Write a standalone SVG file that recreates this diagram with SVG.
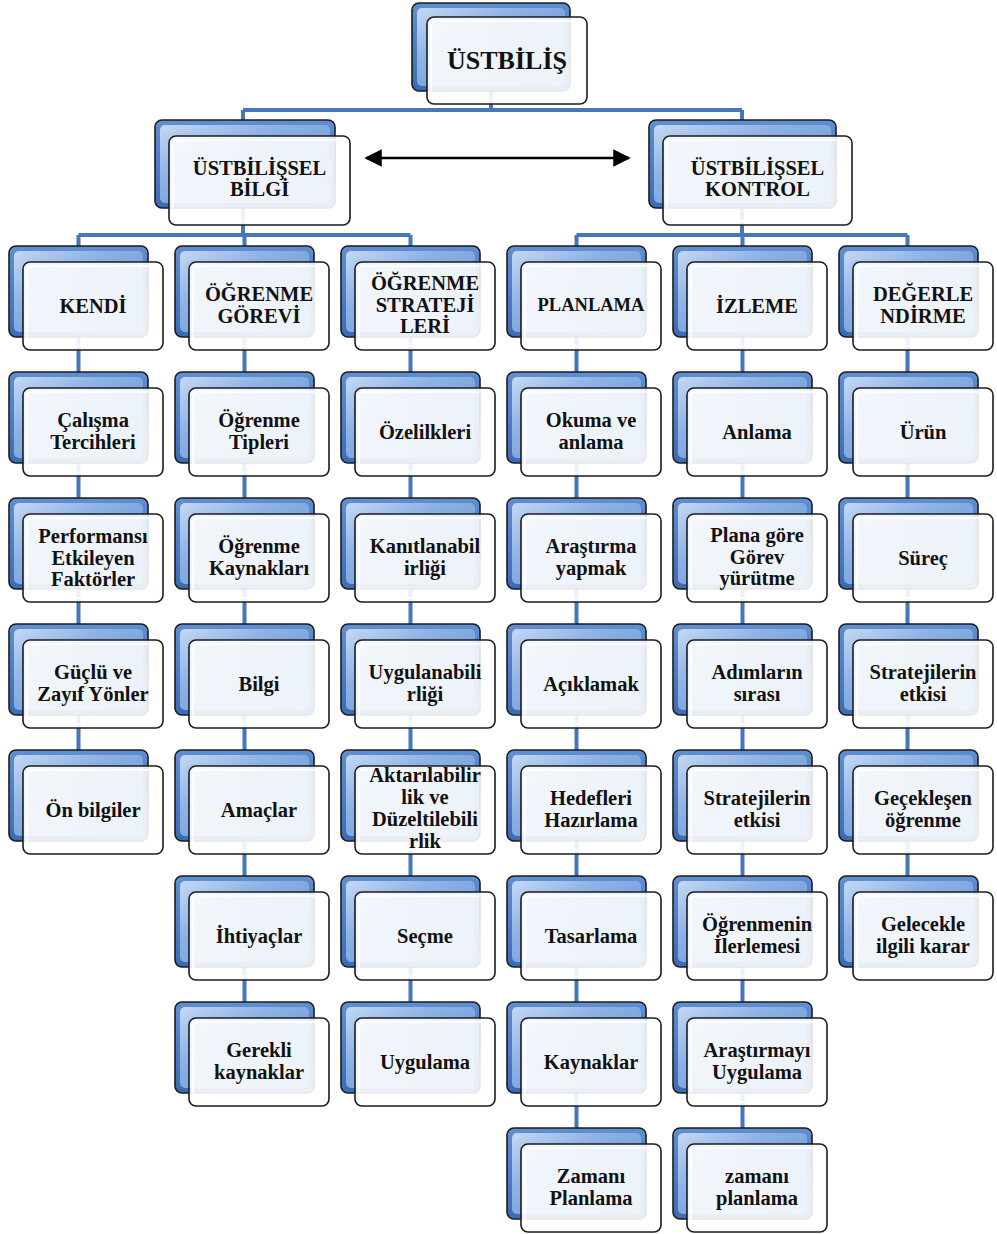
<svg xmlns="http://www.w3.org/2000/svg" width="997" height="1234" viewBox="0 0 997 1234">
  <defs>
    <linearGradient id="backGrad" x1="0" y1="0" x2="0" y2="1">
      <stop offset="0" stop-color="#5f8fd2"/>
      <stop offset="1" stop-color="#3b6cb3"/>
    </linearGradient>
    <linearGradient id="bevelGrad" x1="0" y1="0" x2="1" y2="1">
      <stop offset="0" stop-color="#c4d8f3"/>
      <stop offset="0.35" stop-color="#8eb2e4"/>
      <stop offset="1" stop-color="#5d8ed0"/>
    </linearGradient>
    <linearGradient id="frontGrad" x1="0" y1="0" x2="0" y2="1">
      <stop offset="0" stop-color="#ffffff" stop-opacity="0.86"/>
      <stop offset="1" stop-color="#ffffff" stop-opacity="0.9"/>
    </linearGradient>
    <marker id="arrowHead" viewBox="0 0 10 10" refX="9" refY="5" markerWidth="7" markerHeight="7" markerUnits="strokeWidth" orient="auto-start-reverse">
      <path d="M0,0 L10,5 L0,10 z" fill="#000"/>
    </marker>
  </defs>
  <style>
    .back { fill: url(#backGrad); stroke: #1c1c1c; stroke-width: 1.6; }
    .bevel { fill: url(#bevelGrad); stroke: none; }
    .front { fill: url(#frontGrad); stroke: #1c1c1c; stroke-width: 1.6; }
    .gloss { fill: none; stroke: #ffffff; stroke-width: 2; stroke-opacity: 0.8; }
    .lbl { font-family: "Liberation Serif", "Times New Roman", serif; font-weight: bold; font-size: 20.5px; fill: #111; text-anchor: middle; }
    .big { font-size: 26px; }
    .mid { font-size: 18.5px; }
    .conn { stroke: #4577ba; stroke-width: 4; fill: none; }
    .arrow { stroke: #000; stroke-width: 2.5; fill: none; }
  </style>

  <rect width="997" height="1234" fill="#ffffff"/>

  <!-- tree connectors -->
  <g id="connectors">
    <path class="conn" d="M491,50 V110 M243,110 H742 M243,110 V235 M742,110 V235"/>
    <path class="conn" d="M78.5,235 H410.5 M576.5,235 H907.5"/>
    <path class="conn" d="M78.5,235 V760 M244.5,235 V1012 M410.5,235 V1012 M576.5,235 V1138 M742.5,235 V1138 M907.5,235 V886"/>
    <line class="arrow" x1="366" y1="158" x2="629" y2="158" marker-start="url(#arrowHead)" marker-end="url(#arrowHead)"/>
  </g>

  <!-- root -->
  <g id="n-ustbilis">
    <rect class="back" x="412" y="3" width="158" height="88" rx="7"/>
    <rect class="bevel" x="417" y="8" width="148" height="78" rx="5"/>
    <rect class="front" x="427" y="17" width="160" height="87" rx="7"/>
    <rect class="gloss" x="431" y="21" width="152" height="79" rx="5"/>
    <text class="lbl big" x="507" y="69">ÜSTBİLİŞ</text>
  </g>

  <!-- second level -->
  <g id="n-bilgi">
    <rect class="back" x="155" y="120" width="180" height="88" rx="7"/>
    <rect class="bevel" x="160" y="125" width="170" height="78" rx="5"/>
    <rect class="front" x="169" y="136" width="181" height="89" rx="7"/>
    <rect class="gloss" x="173" y="140" width="173" height="81" rx="5"/>
    <text class="lbl" x="259.5" y="175">ÜSTBİLİŞSEL<tspan x="259.5" dy="21">BİLGİ</tspan></text>
  </g>
  <g id="n-kontrol">
    <rect class="back" x="649" y="120" width="187" height="88" rx="7"/>
    <rect class="bevel" x="654" y="125" width="177" height="78" rx="5"/>
    <rect class="front" x="663" y="136" width="189" height="89" rx="7"/>
    <rect class="gloss" x="667" y="140" width="181" height="81" rx="5"/>
    <text class="lbl" x="757.5" y="175">ÜSTBİLİŞSEL<tspan x="757.5" dy="21">KONTROL</tspan></text>
  </g>

  <!-- column 1: KENDİ -->
  <g id="n-kendi">
    <rect class="back" x="9" y="246" width="139" height="91" rx="7"/><rect class="bevel" x="14" y="251" width="129" height="81" rx="5"/>
    <rect class="front" x="23" y="262" width="140" height="88" rx="7"/><rect class="gloss" x="27" y="266" width="132" height="80" rx="5"/>
    <text class="lbl" x="93" y="313">KENDİ</text>
  </g>
  <g id="n-calisma">
    <rect class="back" x="9" y="372" width="139" height="91" rx="7"/><rect class="bevel" x="14" y="377" width="129" height="81" rx="5"/>
    <rect class="front" x="23" y="388" width="140" height="88" rx="7"/><rect class="gloss" x="27" y="392" width="132" height="80" rx="5"/>
    <text class="lbl" x="93" y="427">Çalışma<tspan x="93" dy="21.5">Tercihleri</tspan></text>
  </g>
  <g id="n-performans">
    <rect class="back" x="9" y="498" width="139" height="91" rx="7"/><rect class="bevel" x="14" y="503" width="129" height="81" rx="5"/>
    <rect class="front" x="23" y="514" width="140" height="88" rx="7"/><rect class="gloss" x="27" y="518" width="132" height="80" rx="5"/>
    <text class="lbl" x="93" y="543">Performansı<tspan x="93" dy="21.5">Etkileyen</tspan><tspan x="93" dy="21.5">Faktörler</tspan></text>
  </g>
  <g id="n-guclu">
    <rect class="back" x="9" y="624" width="139" height="91" rx="7"/><rect class="bevel" x="14" y="629" width="129" height="81" rx="5"/>
    <rect class="front" x="23" y="640" width="140" height="88" rx="7"/><rect class="gloss" x="27" y="644" width="132" height="80" rx="5"/>
    <text class="lbl" x="93" y="679">Güçlü ve<tspan x="93" dy="21.5">Zayıf Yönler</tspan></text>
  </g>
  <g id="n-onbilgiler">
    <rect class="back" x="9" y="750" width="139" height="91" rx="7"/><rect class="bevel" x="14" y="755" width="129" height="81" rx="5"/>
    <rect class="front" x="23" y="766" width="140" height="88" rx="7"/><rect class="gloss" x="27" y="770" width="132" height="80" rx="5"/>
    <text class="lbl" x="93" y="817">Ön bilgiler</text>
  </g>

  <!-- column 2: ÖĞRENME GÖREVİ -->
  <g id="n-gorev">
    <rect class="back" x="175" y="246" width="139" height="91" rx="7"/><rect class="bevel" x="180" y="251" width="129" height="81" rx="5"/>
    <rect class="front" x="189" y="262" width="140" height="88" rx="7"/><rect class="gloss" x="193" y="266" width="132" height="80" rx="5"/>
    <text class="lbl" x="259" y="301">ÖĞRENME<tspan x="259" dy="21.5">GÖREVİ</tspan></text>
  </g>
  <g id="n-tipleri">
    <rect class="back" x="175" y="372" width="139" height="91" rx="7"/><rect class="bevel" x="180" y="377" width="129" height="81" rx="5"/>
    <rect class="front" x="189" y="388" width="140" height="88" rx="7"/><rect class="gloss" x="193" y="392" width="132" height="80" rx="5"/>
    <text class="lbl" x="259" y="427">Öğrenme<tspan x="259" dy="21.5">Tipleri</tspan></text>
  </g>
  <g id="n-kaynaklari">
    <rect class="back" x="175" y="498" width="139" height="91" rx="7"/><rect class="bevel" x="180" y="503" width="129" height="81" rx="5"/>
    <rect class="front" x="189" y="514" width="140" height="88" rx="7"/><rect class="gloss" x="193" y="518" width="132" height="80" rx="5"/>
    <text class="lbl" x="259" y="553">Öğrenme<tspan x="259" dy="21.5">Kaynakları</tspan></text>
  </g>
  <g id="n-bilgi2">
    <rect class="back" x="175" y="624" width="139" height="91" rx="7"/><rect class="bevel" x="180" y="629" width="129" height="81" rx="5"/>
    <rect class="front" x="189" y="640" width="140" height="88" rx="7"/><rect class="gloss" x="193" y="644" width="132" height="80" rx="5"/>
    <text class="lbl" x="259" y="691">Bilgi</text>
  </g>
  <g id="n-amaclar">
    <rect class="back" x="175" y="750" width="139" height="91" rx="7"/><rect class="bevel" x="180" y="755" width="129" height="81" rx="5"/>
    <rect class="front" x="189" y="766" width="140" height="88" rx="7"/><rect class="gloss" x="193" y="770" width="132" height="80" rx="5"/>
    <text class="lbl" x="259" y="817">Amaçlar</text>
  </g>
  <g id="n-ihtiyaclar">
    <rect class="back" x="175" y="876" width="139" height="91" rx="7"/><rect class="bevel" x="180" y="881" width="129" height="81" rx="5"/>
    <rect class="front" x="189" y="892" width="140" height="88" rx="7"/><rect class="gloss" x="193" y="896" width="132" height="80" rx="5"/>
    <text class="lbl" x="259" y="943">İhtiyaçlar</text>
  </g>
  <g id="n-gerekli">
    <rect class="back" x="175" y="1002" width="139" height="91" rx="7"/><rect class="bevel" x="180" y="1007" width="129" height="81" rx="5"/>
    <rect class="front" x="189" y="1018" width="140" height="88" rx="7"/><rect class="gloss" x="193" y="1022" width="132" height="80" rx="5"/>
    <text class="lbl" x="259" y="1057">Gerekli<tspan x="259" dy="21.5">kaynaklar</tspan></text>
  </g>

  <!-- column 3: ÖĞRENME STRATEJİLERİ -->
  <g id="n-stratejiler">
    <rect class="back" x="341" y="246" width="139" height="91" rx="7"/><rect class="bevel" x="346" y="251" width="129" height="81" rx="5"/>
    <rect class="front" x="355" y="262" width="140" height="88" rx="7"/><rect class="gloss" x="359" y="266" width="132" height="80" rx="5"/>
    <text class="lbl" x="425" y="290">ÖĞRENME<tspan x="425" dy="21.5">STRATEJİ</tspan><tspan x="425" dy="21.5">LERİ</tspan></text>
  </g>
  <g id="n-ozellikleri">
    <rect class="back" x="341" y="372" width="139" height="91" rx="7"/><rect class="bevel" x="346" y="377" width="129" height="81" rx="5"/>
    <rect class="front" x="355" y="388" width="140" height="88" rx="7"/><rect class="gloss" x="359" y="392" width="132" height="80" rx="5"/>
    <text class="lbl" x="425" y="439">Özelilkleri</text>
  </g>
  <g id="n-kanitlanabilirlik">
    <rect class="back" x="341" y="498" width="139" height="91" rx="7"/><rect class="bevel" x="346" y="503" width="129" height="81" rx="5"/>
    <rect class="front" x="355" y="514" width="140" height="88" rx="7"/><rect class="gloss" x="359" y="518" width="132" height="80" rx="5"/>
    <text class="lbl" x="425" y="553">Kanıtlanabil<tspan x="425" dy="21.5">irliği</tspan></text>
  </g>
  <g id="n-uygulanabilirlik">
    <rect class="back" x="341" y="624" width="139" height="91" rx="7"/><rect class="bevel" x="346" y="629" width="129" height="81" rx="5"/>
    <rect class="front" x="355" y="640" width="140" height="88" rx="7"/><rect class="gloss" x="359" y="644" width="132" height="80" rx="5"/>
    <text class="lbl" x="425" y="679">Uygulanabili<tspan x="425" dy="21.5">rliği</tspan></text>
  </g>
  <g id="n-aktarilabilirlik">
    <rect class="back" x="341" y="750" width="139" height="91" rx="7"/><rect class="bevel" x="346" y="755" width="129" height="81" rx="5"/>
    <rect class="front" x="355" y="766" width="140" height="88" rx="7"/><rect class="gloss" x="359" y="770" width="132" height="80" rx="5"/>
    <text class="lbl" x="425" y="782">Aktarılabilir<tspan x="425" dy="22">lik ve</tspan><tspan x="425" dy="22">Düzeltilebili</tspan><tspan x="425" dy="22">rlik</tspan></text>
  </g>
  <g id="n-secme">
    <rect class="back" x="341" y="876" width="139" height="91" rx="7"/><rect class="bevel" x="346" y="881" width="129" height="81" rx="5"/>
    <rect class="front" x="355" y="892" width="140" height="88" rx="7"/><rect class="gloss" x="359" y="896" width="132" height="80" rx="5"/>
    <text class="lbl" x="425" y="943">Seçme</text>
  </g>
  <g id="n-uygulama">
    <rect class="back" x="341" y="1002" width="139" height="91" rx="7"/><rect class="bevel" x="346" y="1007" width="129" height="81" rx="5"/>
    <rect class="front" x="355" y="1018" width="140" height="88" rx="7"/><rect class="gloss" x="359" y="1022" width="132" height="80" rx="5"/>
    <text class="lbl" x="425" y="1069">Uygulama</text>
  </g>

  <!-- column 4: PLANLAMA -->
  <g id="n-planlama">
    <rect class="back" x="507" y="246" width="139" height="91" rx="7"/><rect class="bevel" x="512" y="251" width="129" height="81" rx="5"/>
    <rect class="front" x="521" y="262" width="140" height="88" rx="7"/><rect class="gloss" x="525" y="266" width="132" height="80" rx="5"/>
    <text class="lbl mid" x="591" y="311">PLANLAMA</text>
  </g>
  <g id="n-okuma">
    <rect class="back" x="507" y="372" width="139" height="91" rx="7"/><rect class="bevel" x="512" y="377" width="129" height="81" rx="5"/>
    <rect class="front" x="521" y="388" width="140" height="88" rx="7"/><rect class="gloss" x="525" y="392" width="132" height="80" rx="5"/>
    <text class="lbl" x="591" y="427">Okuma ve<tspan x="591" dy="21.5">anlama</tspan></text>
  </g>
  <g id="n-arastirma">
    <rect class="back" x="507" y="498" width="139" height="91" rx="7"/><rect class="bevel" x="512" y="503" width="129" height="81" rx="5"/>
    <rect class="front" x="521" y="514" width="140" height="88" rx="7"/><rect class="gloss" x="525" y="518" width="132" height="80" rx="5"/>
    <text class="lbl" x="591" y="553">Araştırma<tspan x="591" dy="21.5">yapmak</tspan></text>
  </g>
  <g id="n-aciklamak">
    <rect class="back" x="507" y="624" width="139" height="91" rx="7"/><rect class="bevel" x="512" y="629" width="129" height="81" rx="5"/>
    <rect class="front" x="521" y="640" width="140" height="88" rx="7"/><rect class="gloss" x="525" y="644" width="132" height="80" rx="5"/>
    <text class="lbl" x="591" y="691">Açıklamak</text>
  </g>
  <g id="n-hedefler">
    <rect class="back" x="507" y="750" width="139" height="91" rx="7"/><rect class="bevel" x="512" y="755" width="129" height="81" rx="5"/>
    <rect class="front" x="521" y="766" width="140" height="88" rx="7"/><rect class="gloss" x="525" y="770" width="132" height="80" rx="5"/>
    <text class="lbl" x="591" y="805">Hedefleri<tspan x="591" dy="21.5">Hazırlama</tspan></text>
  </g>
  <g id="n-tasarlama">
    <rect class="back" x="507" y="876" width="139" height="91" rx="7"/><rect class="bevel" x="512" y="881" width="129" height="81" rx="5"/>
    <rect class="front" x="521" y="892" width="140" height="88" rx="7"/><rect class="gloss" x="525" y="896" width="132" height="80" rx="5"/>
    <text class="lbl" x="591" y="943">Tasarlama</text>
  </g>
  <g id="n-kaynaklar">
    <rect class="back" x="507" y="1002" width="139" height="91" rx="7"/><rect class="bevel" x="512" y="1007" width="129" height="81" rx="5"/>
    <rect class="front" x="521" y="1018" width="140" height="88" rx="7"/><rect class="gloss" x="525" y="1022" width="132" height="80" rx="5"/>
    <text class="lbl" x="591" y="1069">Kaynaklar</text>
  </g>
  <g id="n-zamani-planlama">
    <rect class="back" x="507" y="1128" width="139" height="91" rx="7"/><rect class="bevel" x="512" y="1133" width="129" height="81" rx="5"/>
    <rect class="front" x="521" y="1144" width="140" height="88" rx="7"/><rect class="gloss" x="525" y="1148" width="132" height="80" rx="5"/>
    <text class="lbl" x="591" y="1183">Zamanı<tspan x="591" dy="21.5">Planlama</tspan></text>
  </g>

  <!-- column 5: İZLEME -->
  <g id="n-izleme">
    <rect class="back" x="673" y="246" width="139" height="91" rx="7"/><rect class="bevel" x="678" y="251" width="129" height="81" rx="5"/>
    <rect class="front" x="687" y="262" width="140" height="88" rx="7"/><rect class="gloss" x="691" y="266" width="132" height="80" rx="5"/>
    <text class="lbl" x="757" y="313">İZLEME</text>
  </g>
  <g id="n-anlama">
    <rect class="back" x="673" y="372" width="139" height="91" rx="7"/><rect class="bevel" x="678" y="377" width="129" height="81" rx="5"/>
    <rect class="front" x="687" y="388" width="140" height="88" rx="7"/><rect class="gloss" x="691" y="392" width="132" height="80" rx="5"/>
    <text class="lbl" x="757" y="439">Anlama</text>
  </g>
  <g id="n-plana-gore">
    <rect class="back" x="673" y="498" width="139" height="91" rx="7"/><rect class="bevel" x="678" y="503" width="129" height="81" rx="5"/>
    <rect class="front" x="687" y="514" width="140" height="88" rx="7"/><rect class="gloss" x="691" y="518" width="132" height="80" rx="5"/>
    <text class="lbl" x="757" y="542">Plana göre<tspan x="757" dy="21.5">Görev</tspan><tspan x="757" dy="21.5">yürütme</tspan></text>
  </g>
  <g id="n-adimlar">
    <rect class="back" x="673" y="624" width="139" height="91" rx="7"/><rect class="bevel" x="678" y="629" width="129" height="81" rx="5"/>
    <rect class="front" x="687" y="640" width="140" height="88" rx="7"/><rect class="gloss" x="691" y="644" width="132" height="80" rx="5"/>
    <text class="lbl" x="757" y="679">Adımların<tspan x="757" dy="21.5">sırası</tspan></text>
  </g>
  <g id="n-strateji-etkisi-1">
    <rect class="back" x="673" y="750" width="139" height="91" rx="7"/><rect class="bevel" x="678" y="755" width="129" height="81" rx="5"/>
    <rect class="front" x="687" y="766" width="140" height="88" rx="7"/><rect class="gloss" x="691" y="770" width="132" height="80" rx="5"/>
    <text class="lbl" x="757" y="805">Stratejilerin<tspan x="757" dy="21.5">etkisi</tspan></text>
  </g>
  <g id="n-ilerleme">
    <rect class="back" x="673" y="876" width="139" height="91" rx="7"/><rect class="bevel" x="678" y="881" width="129" height="81" rx="5"/>
    <rect class="front" x="687" y="892" width="140" height="88" rx="7"/><rect class="gloss" x="691" y="896" width="132" height="80" rx="5"/>
    <text class="lbl" x="757" y="931">Öğrenmenin<tspan x="757" dy="21.5">İlerlemesi</tspan></text>
  </g>
  <g id="n-arastirmayi">
    <rect class="back" x="673" y="1002" width="139" height="91" rx="7"/><rect class="bevel" x="678" y="1007" width="129" height="81" rx="5"/>
    <rect class="front" x="687" y="1018" width="140" height="88" rx="7"/><rect class="gloss" x="691" y="1022" width="132" height="80" rx="5"/>
    <text class="lbl" x="757" y="1057">Araştırmayı<tspan x="757" dy="21.5">Uygulama</tspan></text>
  </g>
  <g id="n-zaman-planlama">
    <rect class="back" x="673" y="1128" width="139" height="91" rx="7"/><rect class="bevel" x="678" y="1133" width="129" height="81" rx="5"/>
    <rect class="front" x="687" y="1144" width="140" height="88" rx="7"/><rect class="gloss" x="691" y="1148" width="132" height="80" rx="5"/>
    <text class="lbl" x="757" y="1183">zamanı<tspan x="757" dy="21.5">planlama</tspan></text>
  </g>

  <!-- column 6: DEĞERLENDİRME -->
  <g id="n-degerlendirme">
    <rect class="back" x="839" y="246" width="139" height="91" rx="7"/><rect class="bevel" x="844" y="251" width="129" height="81" rx="5"/>
    <rect class="front" x="853" y="262" width="140" height="88" rx="7"/><rect class="gloss" x="857" y="266" width="132" height="80" rx="5"/>
    <text class="lbl" x="923" y="301">DEĞERLE<tspan x="923" dy="21.5">NDİRME</tspan></text>
  </g>
  <g id="n-urun">
    <rect class="back" x="839" y="372" width="139" height="91" rx="7"/><rect class="bevel" x="844" y="377" width="129" height="81" rx="5"/>
    <rect class="front" x="853" y="388" width="140" height="88" rx="7"/><rect class="gloss" x="857" y="392" width="132" height="80" rx="5"/>
    <text class="lbl" x="923" y="439">Ürün</text>
  </g>
  <g id="n-surec">
    <rect class="back" x="839" y="498" width="139" height="91" rx="7"/><rect class="bevel" x="844" y="503" width="129" height="81" rx="5"/>
    <rect class="front" x="853" y="514" width="140" height="88" rx="7"/><rect class="gloss" x="857" y="518" width="132" height="80" rx="5"/>
    <text class="lbl" x="923" y="565">Süreç</text>
  </g>
  <g id="n-strateji-etkisi-2">
    <rect class="back" x="839" y="624" width="139" height="91" rx="7"/><rect class="bevel" x="844" y="629" width="129" height="81" rx="5"/>
    <rect class="front" x="853" y="640" width="140" height="88" rx="7"/><rect class="gloss" x="857" y="644" width="132" height="80" rx="5"/>
    <text class="lbl" x="923" y="679">Stratejilerin<tspan x="923" dy="21.5">etkisi</tspan></text>
  </g>
  <g id="n-gerceklesen">
    <rect class="back" x="839" y="750" width="139" height="91" rx="7"/><rect class="bevel" x="844" y="755" width="129" height="81" rx="5"/>
    <rect class="front" x="853" y="766" width="140" height="88" rx="7"/><rect class="gloss" x="857" y="770" width="132" height="80" rx="5"/>
    <text class="lbl" x="923" y="805">Geçekleşen<tspan x="923" dy="21.5">öğrenme</tspan></text>
  </g>
  <g id="n-gelecek">
    <rect class="back" x="839" y="876" width="139" height="91" rx="7"/><rect class="bevel" x="844" y="881" width="129" height="81" rx="5"/>
    <rect class="front" x="853" y="892" width="140" height="88" rx="7"/><rect class="gloss" x="857" y="896" width="132" height="80" rx="5"/>
    <text class="lbl" x="923" y="931">Gelecekle<tspan x="923" dy="21.5">ilgili karar</tspan></text>
  </g>
</svg>
